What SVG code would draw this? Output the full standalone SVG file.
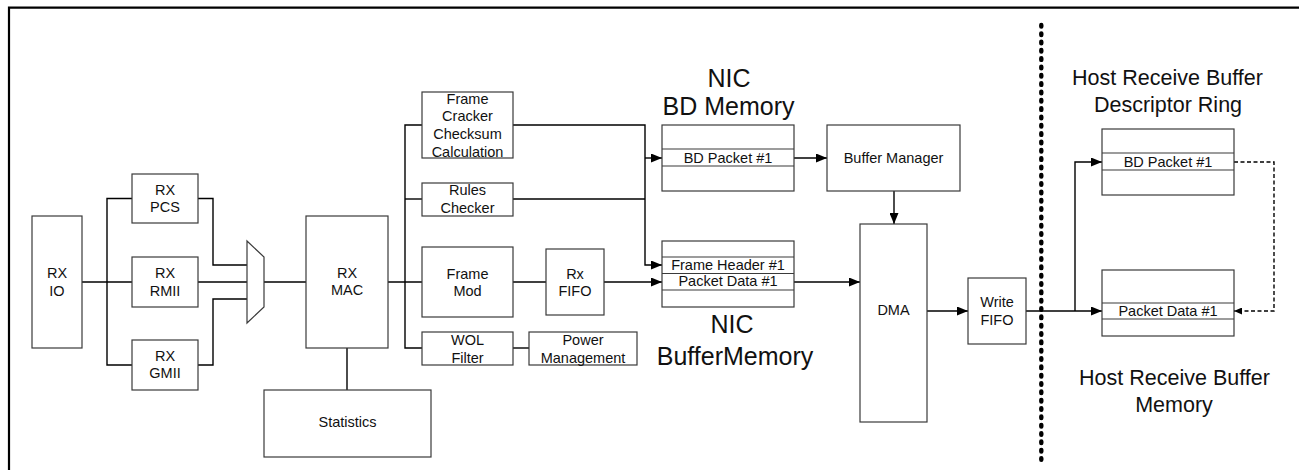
<svg xmlns="http://www.w3.org/2000/svg" width="1299" height="470" viewBox="0 0 1299 470">
<style>
.box{fill:#fff;stroke:#3a3a3a;stroke-width:1.2}
.t{font-family:"Liberation Sans",Arial,sans-serif;font-size:14.5px;fill:#111;text-anchor:middle}
.big{font-family:"Liberation Sans",Arial,sans-serif;font-size:25px;fill:#111;text-anchor:middle}
.mid{font-family:"Liberation Sans",Arial,sans-serif;font-size:21.5px;fill:#111;text-anchor:middle}
.c{fill:none;stroke:#000;stroke-width:1.4}
.ca{fill:none;stroke:#000;stroke-width:1.4;marker-end:url(#arr)}
.d{fill:none;stroke:#000;stroke-width:1.4;stroke-dasharray:4 2.5;marker-end:url(#arrs)}
</style>
<defs>
<marker id="arr" markerUnits="userSpaceOnUse" markerWidth="11" markerHeight="9" refX="11" refY="4.5" orient="auto"><path d="M0,0 L11,4.5 L0,9 z" fill="#000"/></marker>
<marker id="arrs" markerUnits="userSpaceOnUse" markerWidth="8" markerHeight="7" refX="8" refY="3.5" orient="auto"><path d="M0,0 L8,3.5 L0,7 z" fill="#000"/></marker>
</defs>
<rect width="1299" height="470" fill="#fff"/>
<path d="M9,470 V7.7 H1299" fill="none" stroke="#000" stroke-width="2.2"/>
<line x1="1041.3" y1="25" x2="1041.3" y2="462" stroke="#000" stroke-width="4.4" stroke-linecap="round" stroke-dasharray="1.6 6.73"/>

<g id="connectors">
<path class="c" d="M82,282 H132"/>
<path class="c" d="M132,198.5 H107 V365 H132"/>
<path class="c" d="M198,198.5 H213 V265 H247"/>
<path class="c" d="M198,282 H247"/>
<path class="c" d="M198,365 H213 V299 H247"/>
<path class="c" d="M264,282 H306"/>
<path class="c" d="M388,282 H422"/>
<path class="c" d="M422,125 H405 V348 H422"/>
<path class="c" d="M405,199 H422"/>
<path class="c" d="M347,348 V390"/>
<path class="c" d="M513,282 H546"/>
<path class="ca" d="M604,282 H662"/>
<path class="c" d="M513,348 H529"/>
<path class="ca" d="M513,125 H645 V265 H662"/>
<path class="ca" d="M645,158 H662"/>
<path class="c" d="M513,199 H645"/>
<path class="ca" d="M794,158 H827"/>
<path class="ca" d="M894,191 V224"/>
<path class="ca" d="M794,282 H860"/>
<path class="ca" d="M927,311 H968"/>
<path class="ca" d="M1026,311 H1102"/>
<path class="ca" d="M1075,311 V162 H1102"/>
<path class="d" d="M1234,162 H1274 V311 H1234"/>
</g>

<g id="rx-io"><rect class="box" x="32" y="216" width="50" height="132"/><text class="t" x="57" y="278">RX</text><text class="t" x="57" y="296">IO</text></g>
<g id="rx-pcs"><rect class="box" x="132" y="174" width="66" height="49"/><text class="t" x="165" y="195">RX</text><text class="t" x="165" y="212">PCS</text></g>
<g id="rx-rmii"><rect class="box" x="132" y="257" width="66" height="50"/><text class="t" x="165" y="278">RX</text><text class="t" x="165" y="296">RMII</text></g>
<g id="rx-gmii"><rect class="box" x="132" y="340" width="66" height="50"/><text class="t" x="165" y="361">RX</text><text class="t" x="165" y="378">GMII</text></g>
<g id="mux"><polygon class="box" points="247,241 264,257 264,307 247,323"/></g>
<g id="rx-mac"><rect class="box" x="306" y="216" width="82" height="132"/><text class="t" x="347" y="278">RX</text><text class="t" x="347" y="295">MAC</text></g>
<g id="statistics"><rect class="box" x="264" y="390" width="167" height="67"/><text class="t" x="347.5" y="427">Statistics</text></g>
<g id="frame-cracker"><rect class="box" x="422" y="92" width="91" height="66"/><text class="t" x="467.5" y="103.5">Frame</text><text class="t" x="467.5" y="121">Cracker</text><text class="t" x="467.5" y="139">Checksum</text><text class="t" x="467.5" y="156.5">Calculation</text></g>
<g id="rules-checker"><rect class="box" x="422" y="183" width="91" height="33"/><text class="t" x="467.5" y="195">Rules</text><text class="t" x="467.5" y="212.5">Checker</text></g>
<g id="frame-mod"><rect class="box" x="422" y="247" width="91" height="70"/><text class="t" x="467.5" y="279">Frame</text><text class="t" x="467.5" y="296">Mod</text></g>
<g id="rx-fifo"><rect class="box" x="546" y="249" width="58" height="66"/><text class="t" x="575" y="279">Rx</text><text class="t" x="575" y="296">FIFO</text></g>
<g id="wol-filter"><rect class="box" x="422" y="332" width="91" height="33"/><text class="t" x="467.5" y="345">WOL</text><text class="t" x="467.5" y="363">Filter</text></g>
<g id="power-management"><rect class="box" x="529" y="332" width="108" height="33"/><text class="t" x="583" y="345">Power</text><text class="t" x="583" y="363">Management</text></g>

<g id="nic-bd-memory">
<text class="big" x="729" y="87">NIC</text><text class="big" x="728.5" y="115">BD Memory</text>
<rect class="box" x="662" y="125" width="132" height="66"/>
<path class="box" d="M662,149 H794 M662,166 H794"/>
<text class="t" x="728" y="162.5">BD Packet #1</text>
</g>
<g id="buffer-manager"><rect class="box" x="827" y="125" width="133" height="66"/><text class="t" x="893.5" y="163">Buffer Manager</text></g>
<g id="nic-buffer-memory">
<rect class="box" x="662" y="241" width="132" height="66"/>
<path class="box" d="M662,257 H794 M662,273.5 H794 M662,290 H794"/>
<text class="t" x="728" y="270">Frame Header #1</text>
<text class="t" x="728" y="286">Packet Data #1</text>
<text class="big" x="732" y="333">NIC</text><text class="big" x="735" y="365">BufferMemory</text>
</g>
<g id="dma"><rect class="box" x="860" y="224" width="67" height="198"/><text class="t" x="893.5" y="315">DMA</text></g>
<g id="write-fifo"><rect class="box" x="968" y="278" width="58" height="66"/><text class="t" x="997" y="307">Write</text><text class="t" x="997" y="325">FIFO</text></g>

<g id="host-bd-ring">
<text class="mid" x="1167.5" y="85">Host Receive Buffer</text><text class="mid" x="1168" y="112">Descriptor Ring</text>
<rect class="box" x="1102" y="129" width="132" height="66"/>
<path class="box" d="M1102,153 H1234 M1102,170 H1234"/>
<text class="t" x="1168" y="166.5">BD Packet #1</text>
</g>
<g id="host-buffer-memory">
<rect class="box" x="1102" y="270" width="132" height="66"/>
<path class="box" d="M1102,303 H1234 M1102,319 H1234"/>
<text class="t" x="1168" y="316">Packet Data #1</text>
<text class="mid" x="1174.5" y="385">Host Receive Buffer</text><text class="mid" x="1174" y="412">Memory</text>
</g>
</svg>
